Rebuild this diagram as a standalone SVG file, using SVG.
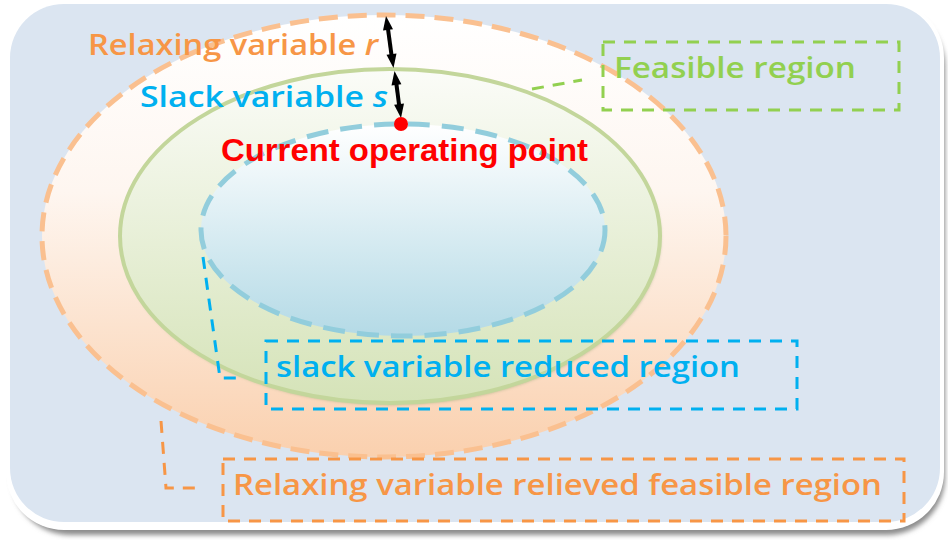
<svg xmlns="http://www.w3.org/2000/svg" width="948" height="540" viewBox="0 0 948 540">
  <defs>
    <linearGradient id="gOuter" x1="0" y1="0" x2="0" y2="1">
      <stop offset="0" stop-color="#FFFFFF"/>
      <stop offset="0.4" stop-color="#FEF6F0"/>
      <stop offset="1" stop-color="#FAD0AE"/>
    </linearGradient>
    <linearGradient id="gFeasible" x1="0" y1="0" x2="0" y2="1">
      <stop offset="0" stop-color="#FBFCF8"/>
      <stop offset="1" stop-color="#D5E3B8"/>
    </linearGradient>
    <linearGradient id="gInner" x1="0" y1="0" x2="0" y2="1">
      <stop offset="0" stop-color="#FFFFFF"/>
      <stop offset="1" stop-color="#B4DAE6"/>
    </linearGradient>
    <filter id="fShadow" x="-5%" y="-5%" width="110%" height="115%">
      <feGaussianBlur stdDeviation="2.5"/>
    </filter>
    <filter id="fSoft" x="-5%" y="-5%" width="110%" height="115%">
      <feGaussianBlur stdDeviation="1.5"/>
    </filter>
    <style>
      .label { font-family: "Open Sans", "Liberation Sans", sans-serif; font-size: 29px; font-weight: 600; }
      .box { fill: none; stroke-width: 3; stroke-dasharray: 12 9; }
      .leader { fill: none; stroke-width: 3; stroke-dasharray: 12 9; }
      .shaft { stroke: #000000; stroke-width: 4; }
      .head { fill: #000000; }
    </style>
  </defs>

  <!-- panel -->
  <g id="panel">
    <rect x="12" y="9" width="933" height="526" rx="58" fill="#8C8C8C" filter="url(#fShadow)"/>
    <rect x="6" y="0" width="938" height="530" rx="58" fill="#FFFFFF"/>
    <rect x="10" y="4" width="930" height="518" rx="54" fill="#DBE5F1"/>
  </g>

  <!-- relaxed feasible region -->
  <g id="relaxed-region">
    <ellipse cx="384" cy="236" rx="342" ry="221" fill="url(#gOuter)" stroke="#FAC090" stroke-width="5" stroke-dasharray="19 10"/>
  </g>

  <!-- feasible region -->
  <g id="feasible-region">
    <ellipse cx="391" cy="238" rx="270" ry="167" fill="#9AAA7A" opacity="0.6" filter="url(#fSoft)"/>
    <ellipse cx="390" cy="236" rx="270" ry="167" fill="url(#gFeasible)" stroke="#C3D69B" stroke-width="4"/>
  </g>

  <!-- slack reduced region -->
  <g id="reduced-region">
    <ellipse cx="403" cy="230" rx="202" ry="106" fill="url(#gInner)" stroke="#92CDDC" stroke-width="5" stroke-dasharray="22 12"/>
  </g>

  <!-- connectors -->
  <g id="connectors">
    <!-- double arrow: relaxing variable r -->
    <line class="shaft" x1="388" y1="29" x2="391.5" y2="55"/>
    <polygon class="head" points="386,16 393,29.2 383,30.6"/>
    <polygon class="head" points="393.5,68 396.5,53.4 386.5,54.8"/>
    <!-- double arrow: slack variable s -->
    <line class="shaft" x1="396.4" y1="84" x2="399.1" y2="105"/>
    <polygon class="head" points="394.5,71 401.4,84.2 391.5,85.6"/>
    <polygon class="head" points="401,118 404,103.4 394.1,104.8"/>
    <!-- leader lines -->
    <path class="leader" stroke="#92D050" d="M532,89 L582,80"/>
    <path class="leader" stroke="#00B0F0" d="M203,257 L220,378 L242,378"/>
    <path class="leader" stroke="#F79646" d="M161,421 L166,488 L200,488"/>
  </g>

  <!-- operating point -->
  <g id="operating-point">
    <circle cx="401" cy="124" r="7" fill="#FF0000"/>
    <text x="221" y="161" font-family="'Liberation Sans', Arial, sans-serif" font-weight="bold" font-size="32" fill="#FF0000" textLength="367" lengthAdjust="spacingAndGlyphs">Current operating point</text>
  </g>

  <!-- labels -->
  <g id="label-relaxing-r">
    <text class="label" x="88" y="55" fill="#F79646" textLength="290" lengthAdjust="spacingAndGlyphs">Relaxing variable <tspan font-style="italic">r</tspan></text>
  </g>
  <g id="label-slack-s">
    <text class="label" x="140" y="107" fill="#00B0F0" textLength="248" lengthAdjust="spacingAndGlyphs">Slack variable <tspan font-style="italic">s</tspan></text>
  </g>

  <g id="box-feasible">
    <rect class="box" x="603" y="42" width="296" height="68" stroke="#92D050"/>
    <text class="label" x="614" y="78" fill="#92D050" textLength="242" lengthAdjust="spacingAndGlyphs">Feasible region</text>
  </g>

  <g id="box-reduced">
    <rect class="box" x="266" y="341" width="531" height="68" stroke="#00B0F0"/>
    <text class="label" x="276" y="377" fill="#00B0F0" textLength="464" lengthAdjust="spacingAndGlyphs">slack variable reduced region</text>
  </g>

  <g id="box-relieved">
    <rect class="box" x="223" y="459" width="681" height="62" stroke="#F79646"/>
    <text class="label" x="233" y="495" fill="#F79646" textLength="649" lengthAdjust="spacingAndGlyphs">Relaxing variable relieved feasible region</text>
  </g>
</svg>
